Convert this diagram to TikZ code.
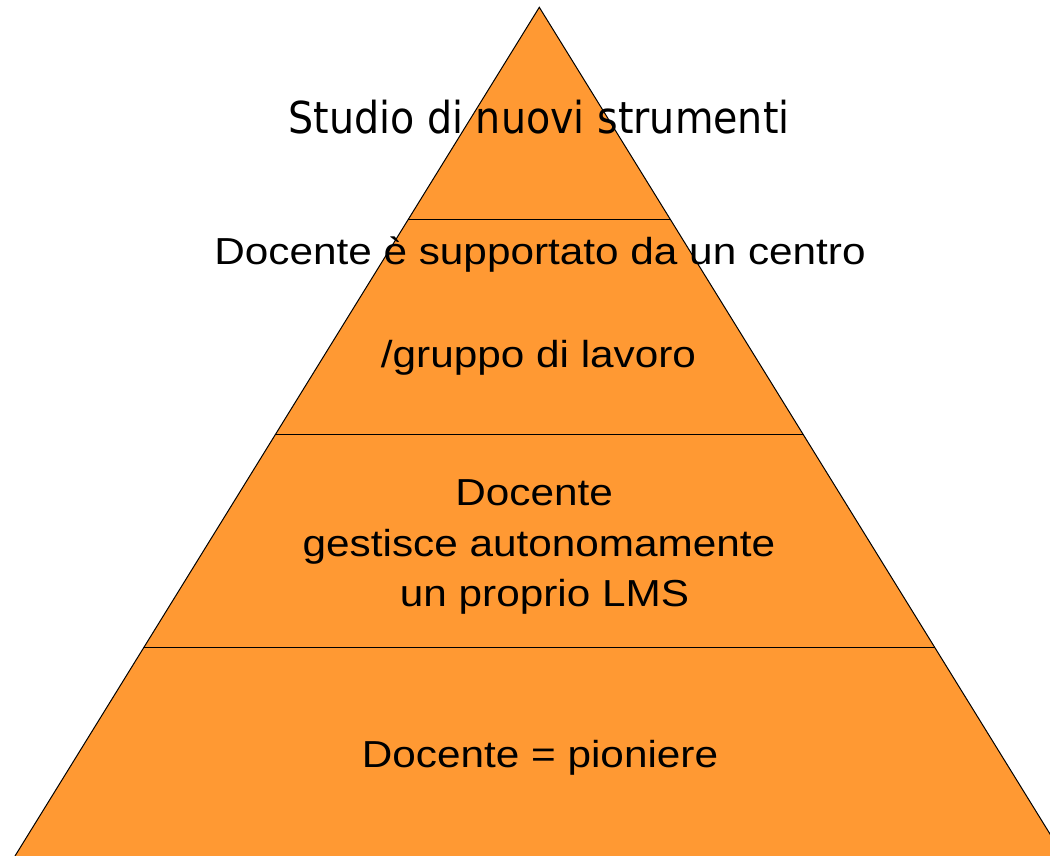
\documentclass[tikz,border=0pt]{standalone}
\usepackage{fontspec}
\setmainfont{Liberation Sans}
\newfontfamily\topfont{DejaVu Sans}
\usetikzlibrary{calc}
\definecolor{pyrorange}{RGB}{255,153,51}
\tikzset{
  pyrtext/.style={anchor=base,inner sep=0pt,text=black,font=\fontsize{28.2pt}{33pt}\selectfont},
  toptext/.style={anchor=base,inner sep=0pt,text=black,font=\topfont\fontsize{33pt}{40pt}\selectfont},
  edge/.style={draw=black,line width=0.75pt,line join=miter}
}
\newcommand{\sx}[1]{\scalebox{1.125}[1]{#1}}
\begin{document}
\begin{tikzpicture}[x=0.75pt,y=-0.75pt]
\useasboundingbox (0,0) rectangle (1050,856);
\clip (0,0) rectangle (1050,856);
\coordinate (apex) at (539.3,7.3);
\coordinate (bl) at (15,856);
\coordinate (br) at (1063.6,856);
\fill[pyrorange] (apex) -- (bl) -- (br) -- cycle;
\draw[edge] (bl) -- (apex) -- (br);
\foreach \t/\n in {0.2505/a,0.5028/b,0.7549/c}{
  \coordinate (l\n) at ($(apex)!\t!(bl)$);
  \coordinate (r\n) at ($(apex)!\t!(br)$);
  \draw[edge] (l\n) -- (r\n);
}
\node[toptext] (t1) at (539,133) {\scalebox{0.9}[1]{Studio di nuovi strumenti}};
\node[pyrtext] (t2a) at (540,264.3) {\sx{Docente è supportato da un centro}};
\node[pyrtext] (t2b) at (538.5,367.3) {\sx{/gruppo di lavoro}};
\node[pyrtext] (t3a) at (534.2,505) {\sx{Docente}};
\node[pyrtext] (t3b) at (539,556) {\sx{gestisce autonomamente}};
\node[pyrtext] (t3c) at (544.5,606.7) {\sx{un proprio LMS}};
\node[pyrtext] (t4) at (540,767.3) {\sx{Docente = pioniere}};
\end{tikzpicture}
\end{document}
